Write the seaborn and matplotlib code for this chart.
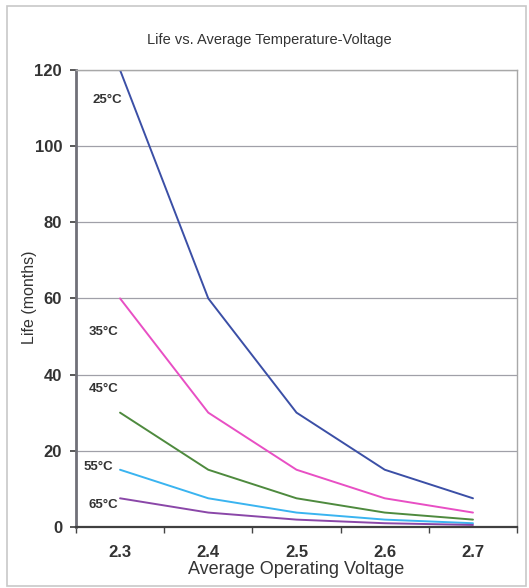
import matplotlib
matplotlib.use("Agg")
import matplotlib.pyplot as plt
import seaborn as sns
import pandas as pd
from matplotlib.patches import Rectangle

voltages = ["2.3", "2.4", "2.5", "2.6", "2.7"]
temps = ["25°C", "35°C", "45°C", "55°C", "65°C"]
life_25 = [120, 60, 30, 15, 7.5]
life_35 = [60, 30, 15, 7.5, 3.75]
life_45 = [30, 15, 7.5, 3.75, 1.9]
life_55 = [15, 7.5, 3.75, 1.9, 0.95]
life_65 = [7.5, 3.75, 1.9, 0.95, 0.5]
series = [life_25, life_35, life_45, life_55, life_65]
colors = ["#3b4fa6", "#e84fc4", "#4e8a3e", "#3ab4f0", "#8a47a8"]
label_pos = [(-0.14, 112.2), (-0.19, 51.2), (-0.19, 36.2), (-0.25, 15.8), (-0.19, 5.8)]

rows = []
for t, vals in zip(temps, series):
    for i, v in enumerate(vals):
        rows.append({"idx": i, "life": v, "temp": t})
df = pd.DataFrame(rows)

sns.set_theme(style="white")
plt.rcParams['font.family'] = ['Liberation Sans', 'DejaVu Sans']

fig = plt.figure(figsize=(5.29, 5.88), dpi=100)
fig.patches.append(Rectangle((0.013, 0.003), 0.982, 0.987, transform=fig.transFigure,
                             fill=False, edgecolor="#c8c8c8", linewidth=1.2))
ax = fig.add_axes([0.1435, 0.104, 0.834, 0.777])

sns.lineplot(data=df, x="idx", y="life", hue="temp", palette=colors, ax=ax,
             linewidth=1.4, legend=False, sort=False)

ax.set_xlim(-0.5, 4.5)
ax.set_ylim(0, 120)
ax.set_yticks(range(0, 121, 20))
ax.set_xticks(range(len(voltages)))
ax.set_xticklabels(voltages)
ax.set_xticks([i + 0.5 for i in range(-1, 5)], minor=True)
ax.tick_params(axis="x", which="major", length=0, labelsize=12, pad=13)
ax.tick_params(axis="x", which="minor", length=4, direction="out", color="#444444", bottom=True)
ax.tick_params(axis="y", length=4, direction="out", left=True, labelsize=12, color="#444444", pad=6)
for lbl in ax.get_xticklabels() + ax.get_yticklabels():
    lbl.set_fontweight("bold")
    lbl.set_color("#333333")
ax.yaxis.grid(True, color="#a0a0a8", linewidth=0.9)
ax.set_axisbelow(True)
for s in ["top", "right"]:
    ax.spines[s].set_color("#a8a8a8")
    ax.spines[s].set_linewidth(1.0)
ax.spines["left"].set_color("#707078")
ax.spines["left"].set_linewidth(2.0)
ax.spines["bottom"].set_color("#404040")
ax.spines["bottom"].set_linewidth(1.6)

ax.set_xlabel("Average Operating Voltage", fontsize=13, color="#333333", labelpad=1)
ax.set_ylabel("Life (months)", fontsize=11.5, color="#333333")
ax.yaxis.set_label_coords(-0.088, 0.503)
fig.text(0.51, 0.932, "Life vs. Average Temperature-Voltage", ha="center", va="center",
         fontsize=10.5, color="#333333")

for t, (x, y) in zip(temps, label_pos):
    ax.text(x, y, t, ha="center", va="center", fontsize=9.5, fontweight="bold", color="#333333")

fig.savefig("out.png", dpi=100)
